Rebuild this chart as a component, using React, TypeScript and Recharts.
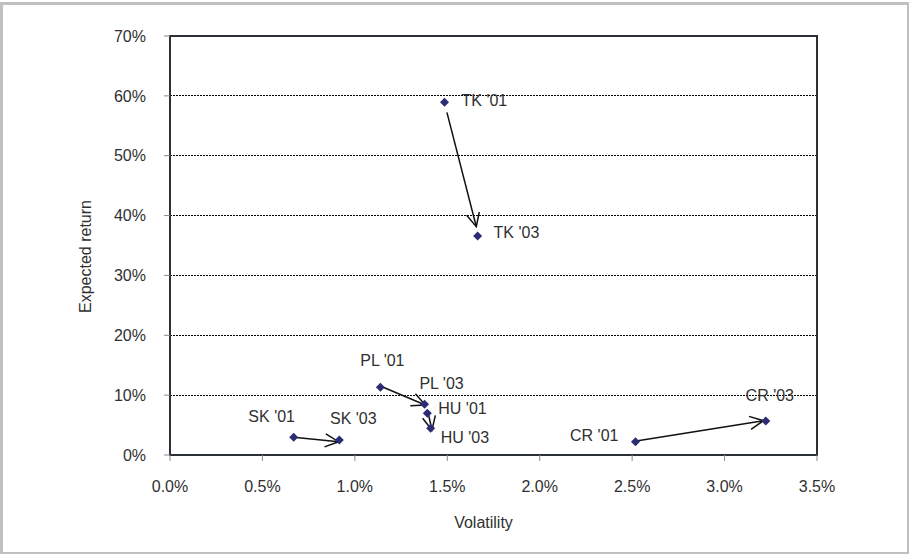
import React from "react";
import {
  ScatterChart,
  Scatter,
  XAxis,
  YAxis,
  CartesianGrid,
  ReferenceLine,
  ReferenceArea,
  Label,
} from "recharts";

// --- data ---
const names = ["SK '01", "SK '03", "PL '01", "PL '03", "HU '01", "HU '03", "TK '01", "TK '03", "CR '01", "CR '03"];
const volatility = [0.669, 0.916, 1.138, 1.377, 1.392, 1.41, 1.485, 1.664, 2.518, 3.223];
const expectedReturn = [2.96, 2.51, 11.31, 8.47, 6.97, 4.46, 58.92, 36.59, 2.22, 5.68];

// arrows drawn between the '01 and '03 points
const arrowFromX = [0.669, 1.147, 1.399, 1.498, 2.522];
const arrowFromY = [2.96, 11.41, 6.68, 57.25, 2.34];
const arrowToX = [0.912, 1.381, 1.417, 1.657, 3.21];
const arrowToY = [2.22, 8.35, 4.18, 38.14, 5.73];

const xTicks = [0, 0.5, 1, 1.5, 2, 2.5, 3, 3.5];
const yTicks = [0, 10, 20, 30, 40, 50, 60, 70];

// --- styling ---
const FONT = '"Liberation Sans", Arial, sans-serif';
const FONT_SIZE = 16;
const TEXT = "#303030";
const MARKER = "#2c2b76";
const FRAME = "#2b3036";

// label placement around each marker
const labelPlacement: Record<string, { dx: number; dy: number; anchor: "start" | "middle" | "end" }> = {
  "SK '01": { dx: -22, dy: -21, anchor: "middle" },
  "SK '03": { dx: 14, dy: -21, anchor: "middle" },
  "PL '01": { dx: 2, dy: -27, anchor: "middle" },
  "PL '03": { dx: 17, dy: -21, anchor: "middle" },
  "HU '01": { dx: 11, dy: -5, anchor: "start" },
  "HU '03": { dx: 10, dy: 9, anchor: "start" },
  "TK '01": { dx: 17, dy: -2, anchor: "start" },
  "TK '03": { dx: 16, dy: -3, anchor: "start" },
  "CR '01": { dx: -17, dy: -6, anchor: "end" },
  "CR '03": { dx: 4, dy: -26, anchor: "middle" },
};

const points = names.map((name, i) => ({ name, x: volatility[i], y: expectedReturn[i] }));
const arrows = arrowFromX.map((x, i) => ({
  from: { x, y: arrowFromY[i] },
  to: { x: arrowToX[i], y: arrowToY[i] },
}));

const renderPoint = (props: any) => {
  const { cx, cy, payload } = props;
  const r = 4.5;
  const lp = labelPlacement[payload.name] || { dx: 10, dy: 0, anchor: "start" };
  return (
    <g>
      <polygon
        points={`${cx},${cy - r} ${cx + r},${cy} ${cx},${cy + r} ${cx - r},${cy}`}
        fill={MARKER}
      />
      <text
        x={cx + lp.dx}
        y={cy + lp.dy}
        textAnchor={lp.anchor}
        dominantBaseline="central"
        fontSize={FONT_SIZE}
        fontFamily={FONT}
        fill={TEXT}
      >
        {payload.name}
      </text>
    </g>
  );
};

/** straight line with an open V arrowhead at its end */
const renderArrow = (props: any) => {
  const x1 = Number(props.x1);
  const y1 = Number(props.y1);
  const x2 = Number(props.x2);
  const y2 = Number(props.y2);
  const ang = Math.atan2(y2 - y1, x2 - x1);
  const len = 15;
  const spread = 0.45;
  const ax1 = x2 - len * Math.cos(ang - spread);
  const ay1 = y2 - len * Math.sin(ang - spread);
  const ax2 = x2 - len * Math.cos(ang + spread);
  const ay2 = y2 - len * Math.sin(ang + spread);
  return (
    <g>
      <line x1={x1} y1={y1} x2={x2} y2={y2} stroke="#111" strokeWidth={1.5} />
      <path
        d={`M${ax1},${ay1}L${x2},${y2}L${ax2},${ay2}`}
        fill="none"
        stroke="#111"
        strokeWidth={1.5}
      />
    </g>
  );
};

const YTitle = (props: any) => {
  const vb = props.viewBox || { x: 0, y: 0, width: 0, height: 0 };
  const cx = vb.x + 85;
  const cy = vb.y + vb.height / 2 + 11;
  return (
    <text
      x={cx}
      y={cy}
      transform={`rotate(-90, ${cx}, ${cy})`}
      textAnchor="middle"
      dominantBaseline="central"
      fontSize={FONT_SIZE}
      fontFamily={FONT}
      fill={TEXT}
    >
      Expected return
    </text>
  );
};

const tickStyle = { fill: TEXT, fontSize: FONT_SIZE, fontFamily: FONT };

export default function App() {
  return (
    <div style={{ position: "absolute", left: 0, top: 0, width: 909, height: 554, background: "#fff" }}>
      <div
        style={{
          position: "absolute",
          left: 0,
          top: 2,
          width: 909,
          height: 552,
          boxSizing: "border-box",
          borderStyle: "solid",
          borderColor: "#c0c0c0",
          borderWidth: "3px 2px 2px 3px",
        }}
      />
      <div style={{ position: "absolute", left: 0, top: 0 }}>
        <ScatterChart width={909} height={554} margin={{ top: 36, right: 92, bottom: 0, left: 0 }}>
          <CartesianGrid
            vertical={false}
            stroke="#000"
            strokeDasharray="2 1"
            shapeRendering="crispEdges"
          />
          <XAxis
            type="number"
            dataKey="x"
            domain={[0, 3.5]}
            ticks={xTicks}
            interval={0}
            tickFormatter={(v) => `${Number(v).toFixed(1)}%`}
            axisLine={false}
            tickLine={{ stroke: "#8a8a8a" }}
            tickSize={6}
            tickMargin={20}
            height={99}
            tick={tickStyle}
            allowDataOverflow
          >
            <Label
              value="Volatility"
              position="insideBottom"
              offset={26}
              dx={-10}
              fill={TEXT}
              fontSize={FONT_SIZE}
              fontFamily={FONT}
            />
          </XAxis>
          <YAxis
            type="number"
            dataKey="y"
            domain={[0, 70]}
            ticks={yTicks}
            interval={0}
            tickFormatter={(v) => `${v}%`}
            axisLine={false}
            tickLine={{ stroke: "#8a8a8a" }}
            tickSize={6}
            tickMargin={18}
            width={170}
            tick={tickStyle}
            allowDataOverflow
          >
            <Label content={YTitle} />
          </YAxis>
          <ReferenceArea
            x1={0}
            x2={3.5}
            y1={0}
            y2={70}
            fill="none"
            fillOpacity={0}
            stroke={FRAME}
            strokeWidth={2}
            ifOverflow="visible"
          />
          {arrows.map((a, i) => (
            <ReferenceLine
              key={i}
              segment={[a.from, a.to]}
              shape={renderArrow}
              ifOverflow="visible"
            />
          ))}
          <Scatter data={points} shape={renderPoint} isAnimationActive={false} />
        </ScatterChart>
      </div>
    </div>
  );
}
